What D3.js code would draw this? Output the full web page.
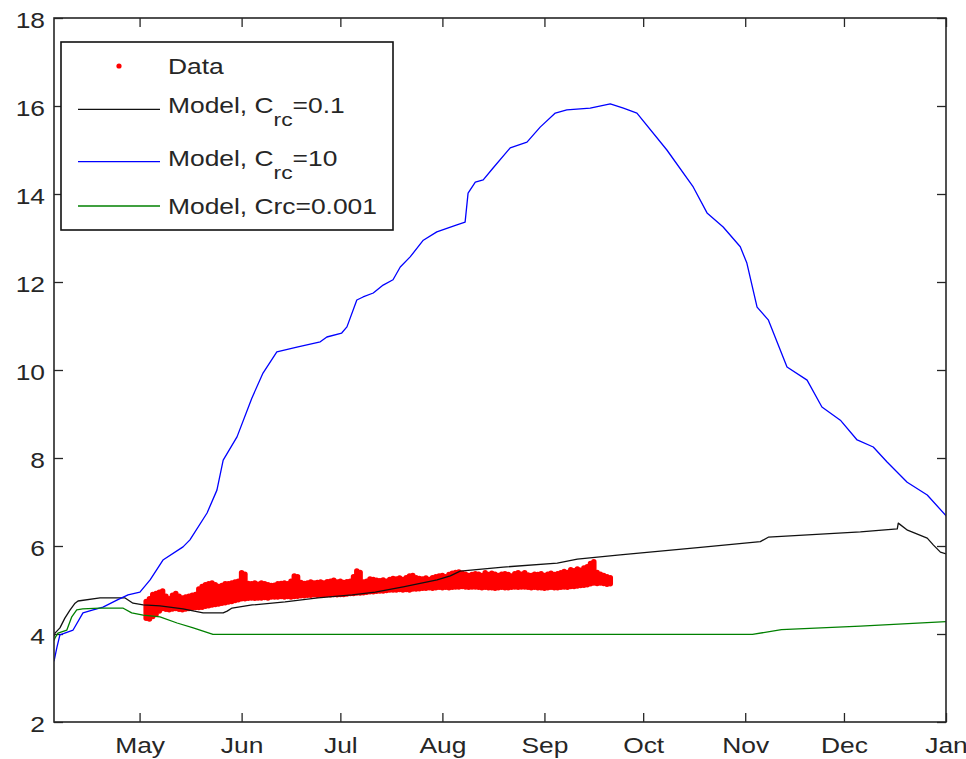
<!DOCTYPE html>
<html>
<head>
<meta charset="utf-8">
<script src="https://cdn.jsdelivr.net/npm/d3@7"></script>
<style>
  html, body { margin: 0; padding: 0; background: #fff; }
  svg { display: block; }
  text { font-family: "Liberation Sans", Arial, Helvetica, sans-serif; fill: #262626; }
</style>
</head>
<body>
<svg id="chart" width="966" height="759"></svg>
<script>
// ---- data (day of year, 2011) ----
const yTicks = [2, 4, 6, 8, 10, 12, 14, 16, 18];
const monthLabels = ["May", "Jun", "Jul", "Aug", "Sep", "Oct", "Nov", "Dec", "Jan"];

// Measured data: daily low / high of the observations, starting 3 May (day 123)
const dataStartDay = 123;
const dataLow = [
  4.36, 4.34, 4.40, 4.45, 4.52,  4.58, 4.56, 4.55, 4.57, 4.58,
  4.56, 4.55, 4.57, 4.58, 4.59,  4.60, 4.60, 4.61, 4.63, 4.64,
  4.66, 4.67, 4.68, 4.70, 4.71,  4.73, 4.74, 4.76, 4.78, 4.80,
  4.80, 4.81, 4.82, 4.81, 4.82,  4.82, 4.83, 4.82, 4.84, 4.84,
  4.84, 4.85, 4.84, 4.85, 4.84,  4.85, 4.86, 4.87, 4.87, 4.88,
  4.88, 4.89, 4.88, 4.89, 4.89,  4.90, 4.89, 4.90, 4.89, 4.90,
  4.90, 4.91, 4.92, 4.92, 4.93,  4.93, 4.94, 4.95, 4.96, 4.96,
  4.97, 4.98, 4.98, 4.99, 5.00,  5.00, 5.00, 5.01, 5.00, 5.01,
  5.00, 5.02, 5.02, 5.03, 5.04,  5.04, 5.05, 5.04, 5.05, 5.06,
  5.05, 5.06, 5.05, 5.06, 5.07,  5.07, 5.08, 5.07, 5.06, 5.07,
  5.07, 5.06, 5.05, 5.06, 5.05,  5.05, 5.04, 5.05, 5.06, 5.05,
  5.05, 5.06, 5.07, 5.06, 5.07,  5.07, 5.06, 5.05, 5.06, 5.05,
  5.05, 5.04, 5.05, 5.06, 5.05,  5.05, 5.06, 5.07, 5.06, 5.08,
  5.08, 5.09, 5.10, 5.11, 5.12,  5.14, 5.16, 5.15, 5.16, 5.15,
  5.13, 5.14
];
const dataHigh = [
  4.74, 4.80, 4.90, 4.92, 4.95,  4.98, 4.86, 4.80, 4.88, 4.92,
  4.86, 4.82, 4.84, 4.86, 4.88,  4.90, 5.02, 5.08, 5.12, 5.14,
  5.16, 5.12, 5.08, 5.10, 5.14,  5.14, 5.16, 5.18, 5.20, 5.39,
  5.36, 5.15, 5.14, 5.16, 5.13,  5.16, 5.14, 5.12, 5.10, 5.11,
  5.14, 5.15, 5.16, 5.14, 5.20,  5.32, 5.30, 5.17, 5.15, 5.16,
  5.18, 5.16, 5.17, 5.18, 5.16,  5.19, 5.20, 5.22, 5.18, 5.20,
  5.17, 5.19, 5.20, 5.30, 5.43,  5.40, 5.18, 5.20, 5.25, 5.24,
  5.22, 5.21, 5.23, 5.20, 5.24,  5.26, 5.25, 5.27, 5.24, 5.28,
  5.32, 5.33, 5.28, 5.26, 5.25,  5.27, 5.24, 5.28, 5.30, 5.32,
  5.33, 5.30, 5.35, 5.38, 5.40,  5.41, 5.38, 5.36, 5.33, 5.35,
  5.37, 5.36, 5.33, 5.39, 5.35,  5.38, 5.36, 5.33, 5.36, 5.37,
  5.35, 5.32, 5.37, 5.39, 5.36,  5.39, 5.34, 5.33, 5.36, 5.35,
  5.37, 5.33, 5.36, 5.38, 5.35,  5.37, 5.39, 5.42, 5.40, 5.46,
  5.44, 5.48, 5.45, 5.50, 5.53,  5.60, 5.64, 5.40, 5.36, 5.33,
  5.30, 5.28
];

// Model, C_rc = 0.1
const blackDay = [95.0, 95.3, 96.8, 98.3, 99.9, 101.4, 102.3, 109.0, 116.6, 119.0, 122.1, 127.2,
  134.2, 140.3, 146.4, 147.6, 149.1, 155.2, 165.2, 175.2, 185.6, 192.6, 201.1, 211.4, 215.4,
  218.4, 231.5, 247.9, 254.0, 267.0, 291.4, 309.6, 312.0, 340.0, 351.2, 351.5, 354.3, 360.3,
  362.2, 364.3, 366.1];
const blackVal = [3.95, 4.02, 4.14, 4.36, 4.55, 4.70, 4.75, 4.82, 4.82, 4.70, 4.66, 4.64,
  4.57, 4.48, 4.48, 4.52, 4.59, 4.66, 4.73, 4.82, 4.89, 4.95, 5.07, 5.23, 5.32,
  5.43, 5.52, 5.61, 5.70, 5.80, 5.97, 6.10, 6.20, 6.32, 6.39, 6.52, 6.36, 6.18,
  6.02, 5.86, 5.82];

// Model, C_rc = 10
const blueDay = [95.0, 95.9, 96.8, 100.8, 103.8, 106.9, 109.9, 114.1, 117.5, 121.1, 124.2, 128.1,
  134.2, 136.3, 141.5, 144.5, 146.4, 150.6, 155.1, 158.5, 162.7, 168.8, 175.9, 177.9, 182.4,
  184.0, 187.0, 188.9, 192.0, 195.0, 198.0, 200.2, 203.2, 207.2, 211.3, 217.4, 219.9, 220.8,
  223.0, 225.4, 228.4, 233.6, 238.7, 242.7, 247.3, 250.8, 257.9, 264.0, 268.0, 272.1, 281.2,
  289.2, 293.4, 298.3, 303.5, 305.5, 308.6, 312.0, 317.7, 323.8, 328.3, 333.9, 339.0, 343.9,
  348.1, 354.2, 360.3, 366.1];
const blueVal = [3.38, 3.70, 3.98, 4.09, 4.48, 4.55, 4.61, 4.77, 4.89, 4.95, 5.23, 5.68,
  5.98, 6.14, 6.75, 7.27, 7.95, 8.48, 9.36, 9.93, 10.41, 10.52, 10.64, 10.75, 10.84,
  10.98, 11.59, 11.66, 11.75, 11.93, 12.05, 12.34, 12.57, 12.95, 13.14, 13.30, 13.36, 14.02,
  14.27, 14.32, 14.59, 15.05, 15.18, 15.52, 15.84, 15.91, 15.95, 16.05, 15.95, 15.84, 15.00,
  14.16, 13.57, 13.25, 12.80, 12.43, 11.43, 11.14, 10.07, 9.77, 9.16, 8.86, 8.41, 8.25,
  7.91, 7.45, 7.16, 6.68];

// Model, Crc = 0.001
const greenDay = [95.0, 95.3, 96.2, 98.9, 100.4, 101.9, 103.7, 108.9, 115.9, 118.6, 122.1, 127.2,
  132.4, 137.3, 143.3, 307.2, 316.0, 340.0, 366.1];
const greenVal = [3.85, 3.91, 4.02, 4.09, 4.39, 4.55, 4.57, 4.59, 4.59, 4.48, 4.43, 4.39,
  4.25, 4.14, 3.99, 3.99, 4.10, 4.18, 4.28];

// ---- layout ----
const plotL = 54, plotR = 946, plotT = 18, plotB = 722;
const fontSize = 22, stretch = 1.2;

const dayToDate = d => new Date(Date.UTC(2011, 0, 1) + (d - 1) * 864e5);

const x = d3.scaleUtc()
  .domain([new Date(Date.UTC(2011, 3, 5)), new Date(Date.UTC(2012, 0, 1))])
  .range([plotL, plotR]);
const y = d3.scaleLinear().domain([2, 18]).range([plotB, plotT]);

const svg = d3.select("#chart");

svg.append("defs").append("clipPath").attr("id", "plotClip")
  .append("rect").attr("x", plotL).attr("y", plotT)
  .attr("width", plotR - plotL).attr("height", plotB - plotT);

const monthTicks = monthLabels.map((m, i) => new Date(Date.UTC(2011, 4 + i, 1)));
const monthFmt = d => monthLabels[monthTicks.findIndex(t => +t === +d)];

const axisColor = "#262626";
function styleAxis(g) {
  g.select(".domain").remove();
  g.selectAll(".tick line").attr("stroke", axisColor).attr("stroke-width", 1.3);
  g.selectAll(".tick text")
    .attr("font-size", fontSize)
    .attr("fill", axisColor)
    .attr("transform", `scale(${stretch},1)`);
  g.attr("font-family", null).attr("font-size", null);
}

// bottom / top
svg.append("g").attr("transform", `translate(0,${plotB})`)
  .call(d3.axisBottom(x).tickValues(monthTicks).tickFormat(monthFmt)
    .tickSizeInner(-9).tickSizeOuter(0).tickPadding(15.4))
  .call(styleAxis);
svg.append("g").attr("transform", `translate(0,${plotT})`)
  .call(d3.axisTop(x).tickValues(monthTicks).tickFormat("")
    .tickSizeInner(-9).tickSizeOuter(0))
  .call(styleAxis);
// left / right
svg.append("g").attr("transform", `translate(${plotL},0)`)
  .call(d3.axisLeft(y).tickValues(yTicks).tickFormat(d3.format("d"))
    .tickSizeInner(-9).tickSizeOuter(0).tickPadding(7.5))
  .call(styleAxis)
  .call(g => g.selectAll(".tick text").attr("dy", "0.42em"));
svg.append("g").attr("transform", `translate(${plotR},0)`)
  .call(d3.axisRight(y).tickValues(yTicks).tickFormat("")
    .tickSizeInner(-9).tickSizeOuter(0))
  .call(styleAxis);

// ---- plotted series ----
const plot = svg.append("g").attr("clip-path", "url(#plotClip)");

// measured data as daily spread of red markers
plot.append("g").selectAll("line")
  .data(dataLow.map((lo, i) => ({ day: dataStartDay + i, lo, hi: dataHigh[i] })))
  .join("line")
  .attr("x1", d => x(dayToDate(d.day)))
  .attr("x2", d => x(dayToDate(d.day)))
  .attr("y1", d => y(d.lo))
  .attr("y2", d => y(d.hi))
  .attr("stroke", "#ff0000")
  .attr("stroke-width", 5.5)
  .attr("stroke-linecap", "round");

const line = d3.line().x(d => x(dayToDate(d[0]))).y(d => y(d[1]));
const series = [
  { days: blackDay, vals: blackVal, color: "#111111" },
  { days: blueDay, vals: blueVal, color: "#0000ff" },
  { days: greenDay, vals: greenVal, color: "#008000" }
];
series.forEach(s => {
  plot.append("path")
    .datum(s.days.map((d, i) => [d, s.vals[i]]))
    .attr("d", line)
    .attr("fill", "none")
    .attr("stroke", s.color)
    .attr("stroke-width", 1.3)
    .attr("stroke-linejoin", "round");
});

// frame
svg.append("rect")
  .attr("x", plotL).attr("y", plotT)
  .attr("width", plotR - plotL).attr("height", plotB - plotT)
  .attr("fill", "none").attr("stroke", axisColor).attr("stroke-width", 1.6);

// ---- legend ----
const legend = svg.append("g");
legend.append("rect")
  .attr("x", 61).attr("y", 42).attr("width", 332).attr("height", 188)
  .attr("fill", "#fff").attr("stroke", "#111").attr("stroke-width", 1.6);

legend.append("circle").attr("cx", 119).attr("cy", 66).attr("r", 2.6).attr("fill", "#ff0000");

const legendEntries = [
  { lineY: 109.3, base: 113, color: "#111111", main: "Model, C", sub: "rc", tail: "=0.1" },
  { lineY: 161.7, base: 165.5, color: "#0000ff", main: "Model, C", sub: "rc", tail: "=10" },
  { lineY: 206, base: 213.5, color: "#008000", main: "Model, Crc=0.001", sub: null, tail: null }
];

function stretchedText(g, tx, ty) {
  return g.append("text")
    .attr("transform", `translate(${tx},${ty}) scale(${stretch},1)`)
    .attr("font-size", fontSize);
}

stretchedText(legend, 168, 74).text("Data");

legendEntries.forEach(e => {
  legend.append("line")
    .attr("x1", 78).attr("x2", 160).attr("y1", e.lineY).attr("y2", e.lineY)
    .attr("stroke", e.color).attr("stroke-width", 1.3);
  const t = stretchedText(legend, 168, e.base);
  t.append("tspan").text(e.main);
  if (e.sub) {
    t.append("tspan").attr("dy", 13).attr("font-size", 19).text(e.sub);
    t.append("tspan").attr("dy", -13).text(e.tail);
  }
});
</script>
</body>
</html>
